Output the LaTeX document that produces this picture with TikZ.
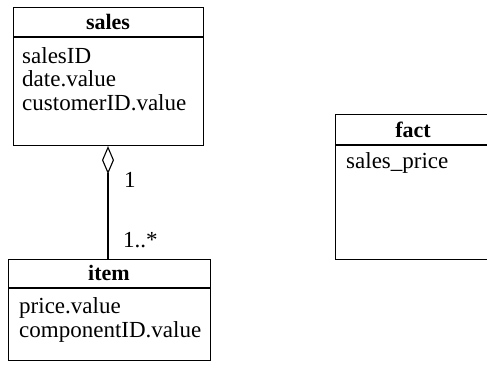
\documentclass[tikz,border=0pt]{standalone}
\usepackage{fontspec}
\setmainfont{Liberation Serif}
\usetikzlibrary{arrows.meta}
\begin{document}
\begin{tikzpicture}[x=1pt,y=-1pt,
  classbox/.style={draw, line width=1.1pt, rectangle, inner sep=0pt, anchor=north west},
  divider/.style={line width=1.1pt},
  title/.style={font=\fontsize{22}{24}\selectfont\bfseries, anchor=base, inner sep=0pt},
  attr/.style={font=\fontsize{23}{24}\selectfont, anchor=base west, inner sep=0pt},
  mult/.style={font=\fontsize{23}{24}\selectfont, anchor=base west, inner sep=0pt},
  aggr/.style={line width=1.1pt, {Diamond[open, length=28pt, width=12pt, line width=1.1pt]}-}]
\useasboundingbox (0,0) rectangle (487,375);
\clip (0,0) rectangle (487,375);

% class: sales
\node[classbox, minimum width=190pt, minimum height=138pt] (sales) at (13,7) {};
\draw[divider] (13,37) -- (203,37);
\node[title] (salesT) at (108,29) {sales};
\node[attr] (salesA1) at (22,63) {salesID};
\node[attr] (salesA2) at (22,86.5) {date.value};
\node[attr] (salesA3) at (22,110) {customerID.value};

% class: item
\node[classbox, minimum width=202pt, minimum height=101pt] (item) at (8,259) {};
\draw[divider] (8,288) -- (210,288);
\node[title] (itemT) at (109,280) {item};
\node[attr] (itemA1) at (19,313) {price.value};
\node[attr] (itemA2) at (19,337) {componentID.value};

% class: fact (runs past the right edge)
\node[classbox, minimum width=160pt, minimum height=145pt] (fact) at (335,114) {};
\draw[divider] (335,145) -- (495,145);
\node[title] (factT) at (413,137) {fact};
\node[attr] (factA1) at (346,168) {sales\_price};

% aggregation sales <>-- item
\draw[aggr] (sales.south -| 108,0) -- (108,0 |- item.north);
\node[mult] (m1) at (124,187) {1};
\node[mult] (m2) at (123,247) {1..*};
\end{tikzpicture}
\end{document}
